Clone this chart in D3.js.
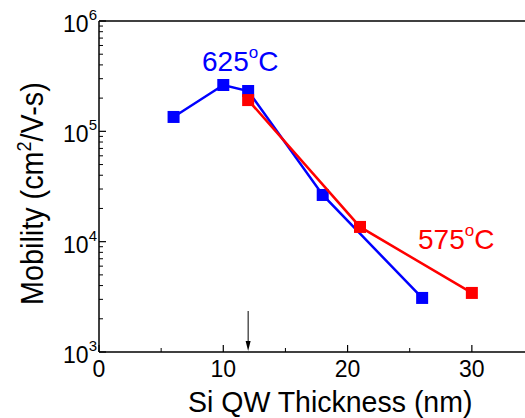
<!DOCTYPE html>
<html><head><meta charset="utf-8">
<script src="https://cdn.jsdelivr.net/npm/d3@7"></script>
<style>body{margin:0;background:#fff}svg{display:block}text{font-family:"Liberation Sans",Arial,sans-serif}</style>
</head><body>
<svg id="c" width="525" height="418"></svg>
<script>
const xBlue = [6, 10, 12, 18, 26];
const yBlue = [1.35e5, 2.63e5, 2.32e5, 2.65e4, 3.09e3];
const xRed = [12, 21, 30];
const yRed = [1.92e5, 1.36e4, 3.43e3];
const xTicks = [0, 10, 20, 30];
const yTickExps = [3, 4, 5, 6];
const arrowX = 12;

const svg = d3.select("#c");
const L = 99, T = 21, B = 352;
const x = d3.scaleLinear().domain([0, 35]).range([L, L + 435]);
const y = d3.scaleLog().domain([1e3, 1e6]).range([B, T]);

// frame
svg.append("line").attr("x1", L).attr("x2", 540).attr("y1", T).attr("y2", T).attr("stroke", "#000").attr("stroke-width", 1.5);
svg.append("line").attr("x1", L).attr("x2", 540).attr("y1", B).attr("y2", B).attr("stroke", "#000").attr("stroke-width", 1.5);
svg.append("line").attr("x1", L).attr("x2", L).attr("y1", T).attr("y2", B).attr("stroke", "#000").attr("stroke-width", 1.5);

// y ticks (inward)
const minor = [];
for (let e = 3; e < 6; e++) for (let m = 2; m <= 9; m++) minor.push(m * Math.pow(10, e));
svg.selectAll(".ym").data(minor).join("line")
  .attr("x1", L).attr("x2", L + 4).attr("y1", d => y(d)).attr("y2", d => y(d)).attr("stroke", "#000").attr("stroke-width", 1);
svg.selectAll(".yM").data(yTickExps).join("line")
  .attr("x1", L).attr("x2", L + 7).attr("y1", d => y(Math.pow(10, d))).attr("y2", d => y(Math.pow(10, d))).attr("stroke", "#000").attr("stroke-width", 1.2);
const yl = svg.selectAll(".yl").data(yTickExps).join("text")
  .attr("x", 97).attr("y", d => y(Math.pow(10, d)) + 11).attr("text-anchor", "end").attr("font-size", 23);
yl.append("tspan").text("10");
yl.append("tspan").attr("dy", -12).attr("font-size", 15).text(d => d);

// x ticks (inward)
svg.selectAll(".xM").data(xTicks).join("line")
  .attr("x1", d => x(d)).attr("x2", d => x(d)).attr("y1", B).attr("y2", B - 7).attr("stroke", "#000").attr("stroke-width", 1.2);
svg.selectAll(".xm").data([5, 15, 25]).join("line")
  .attr("x1", d => x(d)).attr("x2", d => x(d)).attr("y1", B).attr("y2", B - 4).attr("stroke", "#000").attr("stroke-width", 1);
svg.selectAll(".xl").data(xTicks).join("text")
  .attr("x", d => x(d)).attr("y", 377).attr("text-anchor", "middle").attr("font-size", 23).text(d => d);

// titles
svg.append("text").attr("transform", "translate(188,412) scale(1,1.06)").attr("font-size", 28.5).text("Si QW Thickness (nm)");
const yt = svg.append("text").attr("transform", "translate(43,305) rotate(-90) scale(1,1.1)").attr("font-size", 28.8);
yt.append("tspan").text("Mobility (cm");
yt.append("tspan").attr("dy", -11).attr("font-size", 18).text("2");
yt.append("tspan").attr("dy", 11).text("/V-s)");

// arrow
svg.append("line").attr("x1", x(arrowX)).attr("x2", x(arrowX)).attr("y1", 311).attr("y2", 345).attr("stroke", "#000").attr("stroke-width", 1);
svg.append("path").attr("d", `M${x(arrowX) - 2.5},341 L${x(arrowX) + 2.5},341 L${x(arrowX)},351 Z`).attr("fill", "#000");

// series
function series(xs, ys, color) {
  const pts = xs.map((v, i) => [v, ys[i]]);
  svg.append("path").datum(pts).attr("fill", "none").attr("stroke", color).attr("stroke-width", 2.5)
    .attr("d", d3.line().x(d => x(d[0])).y(d => y(d[1])));
  svg.selectAll(null).data(pts).join("rect")
    .attr("x", d => x(d[0]) - 6).attr("y", d => y(d[1]) - 6).attr("width", 12).attr("height", 12).attr("fill", color);
}
series(xBlue, yBlue, "#0000ff");
series(xRed, yRed, "#ff0000");

// labels
function lbl(tx, ty, s, color) {
  const t = svg.append("text").attr("x", tx).attr("y", ty).attr("font-size", 28).attr("fill", color);
  t.append("tspan").text(s);
  t.append("tspan").attr("dy", -13).attr("font-size", 17).text("o");
  t.append("tspan").attr("dy", 13).text("C");
}
lbl(202, 71, "625", "#0000ff");
lbl(418, 249, "575", "#ff0000");
</script>
</body></html>
